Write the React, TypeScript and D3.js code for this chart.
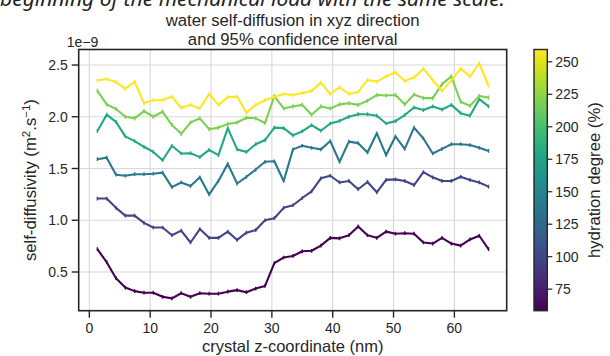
import React from 'react';
import * as d3 from 'd3';

const zCoords = [1.32, 2.85, 4.38, 5.91, 7.44, 8.98, 10.51, 12.04, 13.57, 15.1, 16.63, 18.16, 19.69, 21.22, 22.75, 24.29, 25.82, 27.35, 28.88, 30.41, 31.94, 33.47, 35.0, 36.53, 38.06, 39.6, 41.13, 42.66, 44.19, 45.72, 47.25, 48.78, 50.31, 51.84, 53.37, 54.91, 56.44, 57.97, 59.5, 61.03, 62.56, 64.09, 65.62];

const hydration = [58.4, 98.6, 139, 179, 219, 259.5];

const s58 = [0.72, 0.595, 0.44, 0.35, 0.315, 0.3, 0.3, 0.26, 0.245, 0.295, 0.26, 0.295, 0.29, 0.29, 0.31, 0.325, 0.305, 0.34, 0.365, 0.585, 0.64, 0.655, 0.7, 0.705, 0.755, 0.83, 0.825, 0.855, 0.94, 0.855, 0.83, 0.89, 0.87, 0.875, 0.87, 0.785, 0.775, 0.83, 0.775, 0.755, 0.815, 0.85, 0.72];
const s99 = [1.21, 1.21, 1.12, 1.045, 1.045, 0.975, 0.93, 0.93, 0.855, 0.9, 0.785, 0.915, 0.83, 0.83, 0.89, 0.81, 0.88, 0.905, 1.0, 1.02, 1.12, 1.145, 1.215, 1.28, 1.405, 1.43, 1.365, 1.38, 1.3, 1.37, 1.27, 1.39, 1.395, 1.38, 1.34, 1.465, 1.415, 1.38, 1.38, 1.42, 1.39, 1.365, 1.325];
const s139 = [1.59, 1.605, 1.44, 1.43, 1.445, 1.445, 1.45, 1.46, 1.32, 1.365, 1.33, 1.415, 1.25, 1.38, 1.545, 1.355, 1.42, 1.49, 1.565, 1.57, 1.38, 1.685, 1.72, 1.7, 1.685, 1.765, 1.565, 1.76, 1.745, 1.655, 1.84, 1.63, 1.81, 1.69, 1.895, 1.79, 1.645, 1.69, 1.735, 1.735, 1.727, 1.7, 1.67];
const s179 = [1.862, 2.02, 1.95, 1.81, 1.765, 1.71, 1.66, 1.58, 1.72, 1.645, 1.648, 1.61, 1.68, 1.63, 1.89, 1.685, 1.66, 1.735, 1.775, 1.895, 1.89, 1.82, 1.86, 1.92, 1.865, 1.935, 1.96, 2.0, 2.025, 2.025, 2.01, 1.935, 1.958, 2.017, 2.09, 2.065, 2.1, 2.07, 2.115, 2.035, 2.01, 2.17, 2.1];
const s219 = [2.25, 2.12, 2.075, 2.0, 1.985, 2.055, 2.0, 2.05, 1.92, 1.835, 1.945, 1.985, 1.88, 1.895, 1.93, 1.945, 1.99, 1.985, 1.94, 2.2, 2.08, 2.1, 2.115, 2.02, 2.1, 2.08, 2.12, 2.13, 2.115, 2.155, 2.21, 2.205, 2.21, 2.12, 2.215, 2.18, 2.18, 2.315, 2.39, 2.145, 2.105, 2.2, 2.185];
const s260 = [2.35, 2.365, 2.335, 2.27, 2.34, 2.13, 2.16, 2.16, 2.195, 2.085, 2.115, 2.08, 2.22, 2.115, 2.19, 2.195, 2.04, 2.115, 2.16, 2.19, 2.22, 2.21, 2.23, 2.25, 2.33, 2.22, 2.285, 2.22, 2.24, 2.355, 2.34, 2.39, 2.43, 2.345, 2.38, 2.465, 2.355, 2.25, 2.35, 2.465, 2.39, 2.515, 2.3];

const seriesValues = [s58, s99, s139, s179, s219, s260];
const ciHalfWidth = [0.018, 0.018, 0.018, 0.018, 0.02, 0.018];

const xTicks = [0, 10, 20, 30, 40, 50, 60];
const yTicks = [0.5, 1.0, 1.5, 2.0, 2.5];
const cbTicks = [75, 100, 125, 150, 175, 200, 225, 250];

const W = 610, H = 356;
const plot = { left: 78.7, right: 506.7, top: 49.5, bottom: 310.7 };
const cb = { left: 534, right: 547.3, top: 49.5, bottom: 310.7 };
const ink = '#262626';
const FONT = '"Liberation Sans", Arial, sans-serif';

export default function App() {
  const x = d3.scaleLinear().domain([-1.75, 68.6]).range([plot.left, plot.right]);
  const y = d3.scaleLinear().domain([0.126, 2.65]).range([plot.bottom, plot.top]);
  const hExtent = [58.4, 259.5];
  const cbScale = d3.scaleLinear().domain(hExtent).range([cb.bottom, cb.top]);
  const color = d3.scaleSequential(d3.interpolateViridis).domain(hExtent);
  const line = d3.line<number>().x((_, i) => x(zCoords[i])).y(d => y(d));
  const stops = d3.range(0, 1.0001, 0.05);

  return (
    <svg width={W} height={H} style={{ position: 'absolute', left: 0, top: 0, background: '#fff' }} fontFamily={FONT}>
      <defs>
        <linearGradient id="vir" x1="0" y1="1" x2="0" y2="0">
          {stops.map(t => <stop key={t} offset={t} stopColor={d3.interpolateViridis(t)} />)}
        </linearGradient>
        <clipPath id="pc"><rect x={plot.left} y={plot.top} width={plot.right - plot.left} height={plot.bottom - plot.top} /></clipPath>
      </defs>
      <rect width={W} height={H} fill="#fff" />
      <text x={0} y={6} fontSize={19} fontStyle="italic" fontFamily='"Noto Sans", sans-serif' fill="#222" textLength={505} lengthAdjust="spacingAndGlyphs">beginning of the mechanical load with the same scale.</text>

      {/* grid */}
      {xTicks.map(t => <line key={'gx' + t} x1={x(t)} x2={x(t)} y1={plot.top} y2={plot.bottom} stroke="#d8d8d8" strokeWidth={1.1} />)}
      {yTicks.map(t => <line key={'gy' + t} x1={plot.left} x2={plot.right} y1={y(t)} y2={y(t)} stroke="#d8d8d8" strokeWidth={1.1} />)}

      {/* series */}
      <g clipPath="url(#pc)">
        {seriesValues.map((vals, si) => (
          <g key={si} stroke={color(hydration[si])} fill="none">
            <path d={line(vals) || ''} strokeWidth={2.1} strokeLinejoin="round" />
            {vals.map((v, i) => (
              <g key={i} strokeWidth={1.4}>
                <line x1={x(zCoords[i])} x2={x(zCoords[i])} y1={y(v - ciHalfWidth[si])} y2={y(v + ciHalfWidth[si])} />
              </g>
            ))}
          </g>
        ))}
      </g>

      {/* frame */}
      <rect x={plot.left} y={plot.top} width={plot.right - plot.left} height={plot.bottom - plot.top} fill="none" stroke={ink} strokeWidth={1.6} />

      {/* x axis */}
      {xTicks.map(t => (
        <g key={'xt' + t}>
          <line x1={x(t)} x2={x(t)} y1={plot.bottom} y2={plot.bottom + 7} stroke={ink} strokeWidth={1.4} />
          <text x={x(t)} y={333} textAnchor="middle" fontSize={14} fill={ink}>{t}</text>
        </g>
      ))}
      <text x={(plot.left + plot.right) / 2} y={351.5} textAnchor="middle" fontSize={16.5} fill={ink}>crystal z-coordinate (nm)</text>

      {/* y axis */}
      {yTicks.map(t => (
        <g key={'yt' + t}>
          <line x1={plot.left - 7} x2={plot.left} y1={y(t)} y2={y(t)} stroke={ink} strokeWidth={1.4} />
          <text x={plot.left - 11} y={y(t)} dy="0.36em" textAnchor="end" fontSize={14} fill={ink}>{t.toFixed(1)}</text>
        </g>
      ))}
      <text x={plot.left - 12} y={plot.top - 3} fontSize={14} fill={ink}>1e−9</text>
      <text transform={`translate(36,${(plot.top + plot.bottom) / 2}) rotate(-90)`} textAnchor="middle" fontSize={16.7} fill={ink}>
        self-diffusivity (m<tspan dy="-6" fontSize={11.5}>2</tspan><tspan dy="6">.s</tspan><tspan dy="-6" fontSize={11.5}>−1</tspan><tspan dy="6">)</tspan>
      </text>

      {/* title */}
      <text x={(plot.left + plot.right) / 2} y={26} textAnchor="middle" fontSize={16.7} fill={ink}>water self-diffusion in xyz direction</text>
      <text x={(plot.left + plot.right) / 2} y={44.5} textAnchor="middle" fontSize={16.7} fill={ink}>and 95% confidence interval</text>

      {/* colorbar */}
      <rect x={cb.left} y={cb.top} width={cb.right - cb.left} height={cb.bottom - cb.top} fill="url(#vir)" stroke={ink} strokeWidth={1.4} />
      {cbTicks.map(t => (
        <g key={'cb' + t}>
          <line x1={cb.right} x2={cb.right + 5} y1={cbScale(t)} y2={cbScale(t)} stroke={ink} strokeWidth={1.2} />
          <text x={cb.right + 8} y={cbScale(t)} dy="0.36em" fontSize={14} fill={ink}>{t}</text>
        </g>
      ))}
      <text transform={`translate(600,${(cb.top + cb.bottom) / 2}) rotate(-90)`} textAnchor="middle" fontSize={16.7} fill={ink}>hydration degree (%)</text>
    </svg>
  );
}
